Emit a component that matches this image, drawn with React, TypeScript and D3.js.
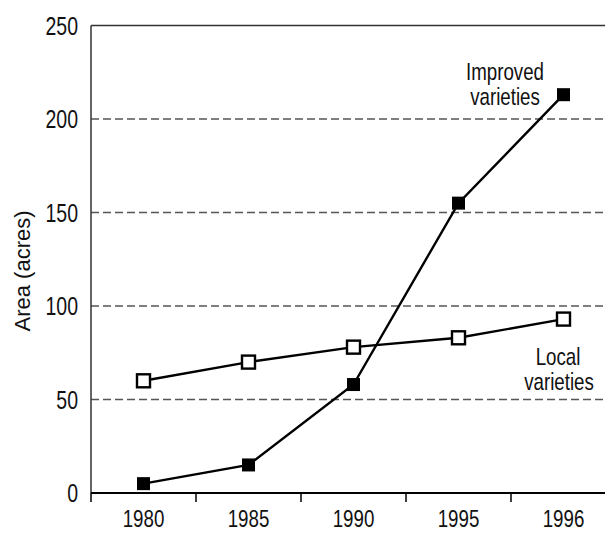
import React from "react";
import * as d3 from "d3";

const categories = ["1980", "1985", "1990", "1995", "1996"];
const improved = [5, 15, 58, 155, 213];
const local = [60, 70, 78, 83, 93];
const yTicks = [0, 50, 100, 150, 200, 250];

const W = 605;
const H = 533;
const left = 91;
const bandW = 105;
const top = 25.5;
const bottom = 493;
const FONT = "'Liberation Sans', Arial, sans-serif";
const SX = 0.78;

function NText(props: {
  x: number;
  y: number;
  anchor: "start" | "middle" | "end";
  size?: number;
  children: React.ReactNode;
}) {
  return (
    <text
      transform={`translate(${props.x},${props.y}) scale(${SX},1)`}
      textAnchor={props.anchor}
      fontFamily={FONT}
      fontSize={props.size ?? 25}
      fill="#111"
    >
      {props.children}
    </text>
  );
}

export default function App() {
  const x = d3
    .scaleBand<string>()
    .domain(categories)
    .range([left, left + bandW * categories.length])
    .paddingInner(0)
    .paddingOuter(0);
  const y = d3.scaleLinear().domain([0, 250]).range([bottom, top]);
  const cx = (c: string) => (x(c) as number) + x.bandwidth() / 2;
  const line = d3
    .line<number>()
    .x((_, i) => cx(categories[i]))
    .y((d) => y(d));
  const right = left + bandW * categories.length;
  const boundaries = d3.range(categories.length + 1).map((i) => left + i * bandW);

  return (
    <svg
      width={W}
      height={H}
      style={{ position: "absolute", left: 0, top: 0, background: "#fff" }}
    >
      {yTicks
        .filter((t) => t > 0 && t < 250)
        .map((t) => (
          <line
            key={"g" + t}
            x1={left}
            x2={right}
            y1={y(t)}
            y2={y(t)}
            stroke="#555"
            strokeWidth={1.3}
            strokeDasharray="8,4"
          />
        ))}
      <line x1={left} x2={right} y1={y(250)} y2={y(250)} stroke="#333" strokeWidth={1.5} />
      <line x1={left} x2={left} y1={y(250)} y2={y(0)} stroke="#333" strokeWidth={1.5} />
      <line x1={left} x2={right} y1={y(0)} y2={y(0)} stroke="#000" strokeWidth={2} />
      {boundaries.map((b, i) => (
        <line key={"t" + i} x1={b} x2={b} y1={y(0)} y2={y(0) + 9} stroke="#000" strokeWidth={1.5} />
      ))}
      {yTicks.map((t) => (
        <NText key={"yl" + t} x={78} y={y(t) + 9} anchor="end">
          {t}
        </NText>
      ))}
      {categories.map((c) => (
        <NText key={"xl" + c} x={cx(c)} y={527} anchor="middle" size={24}>
          {c}
        </NText>
      ))}
      <text
        transform={`translate(30,271) rotate(-90)`}
        textAnchor="middle"
        fontFamily={FONT}
        fontSize={22}
        fill="#111"
      >
        Area (acres)
      </text>
      <path d={line(local) || ""} fill="none" stroke="#000" strokeWidth={2.4} />
      <path d={line(improved) || ""} fill="none" stroke="#000" strokeWidth={2.4} />
      {local.map((v, i) => (
        <rect
          key={"lm" + i}
          x={cx(categories[i]) - 6.5}
          y={y(v) - 6.5}
          width={13}
          height={13}
          fill="#fff"
          stroke="#000"
          strokeWidth={2.4}
        />
      ))}
      {improved.map((v, i) => (
        <rect
          key={"im" + i}
          x={cx(categories[i]) - 6.5}
          y={y(v) - 6.5}
          width={13}
          height={13}
          fill="#000"
        />
      ))}
      <NText x={505} y={80} anchor="middle" size={24}>Improved</NText>
      <NText x={505} y={105} anchor="middle" size={24}>varieties</NText>
      <NText x={558} y={365} anchor="middle" size={24}>Local</NText>
      <NText x={559} y={390} anchor="middle" size={24}>varieties</NText>
    </svg>
  );
}
